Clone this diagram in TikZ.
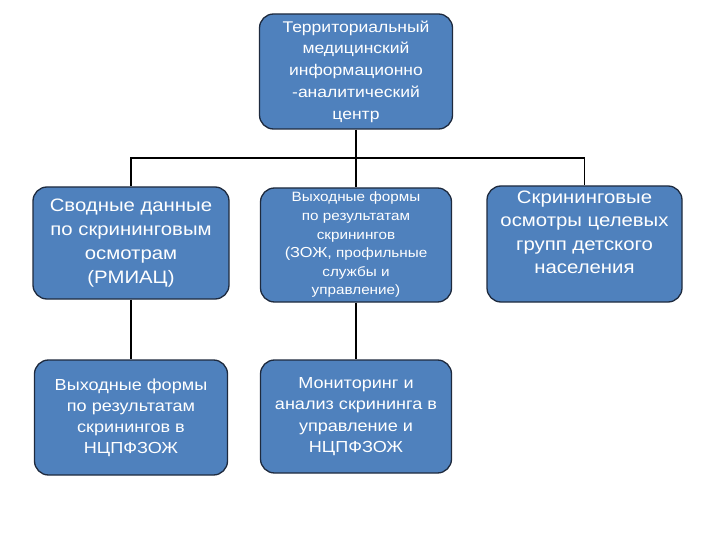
\documentclass[tikz,border=0pt]{standalone}
\usepackage{fontspec}
\setmainfont[FakeStretch=1.13]{Liberation Sans}
\definecolor{boxblue}{HTML}{4F81BD}
\definecolor{boxedge}{HTML}{1E2A3E}
\begin{document}
\begin{tikzpicture}[x=1pt,y=-1pt,
  box/.style={draw=boxedge, line width=1.3pt, fill=boxblue, rounded corners=14pt,
    text=white, align=center, inner sep=0pt},
  conn/.style={line width=1.8pt, draw=black}]
\useasboundingbox (0,0) rectangle (720,540);
\node[box, minimum width=193pt, minimum height=115pt, font=\fontsize{15.5}{21.7}\selectfont] (top) at (356,71.5)
  {Территориальный\\медицинский\\информационно\\-аналитический\\центр};
\node[box, minimum width=196pt, minimum height=112pt, font=\fontsize{18}{24}\selectfont] (b1) at (131,243)
  {Сводные данные\\по скрининговым\\осмотрам\\(РМИАЦ)};
\node[box, minimum width=191pt, minimum height=114pt, font=\fontsize{13.5}{18.6}\selectfont] (b2) at (356,245)
  {Выходные формы\\по результатам\\скринингов\\{\fontsize{14.5}{18.6}\selectfont(ЗОЖ,} профильные\\службы и\\управление)};
\node[box, minimum width=195pt, minimum height=116pt, font=\fontsize{18}{23.5}\selectfont] (b3) at (584.5,244)
  {Скрининговые\\осмотры целевых\\групп детского\\населения\\\mbox{}};
\node[box, minimum width=193pt, minimum height=115pt, font=\fontsize{16}{21}\selectfont] (c1) at (131,417.5)
  {Выходные формы\\по результатам\\скринингов в\\НЦПФЗОЖ};
\node[box, minimum width=191pt, minimum height=113pt, font=\fontsize{16}{21.5}\selectfont] (c2) at (356,416.5)
  {Мониторинг и\\анализ скрининга в\\управление и\\НЦПФЗОЖ};
\coordinate (bus) at (356,158);
\draw[conn] (top.south) -- (bus);
\draw[conn] (b1.north) |- (bus) -| (b3.north);
\draw[conn] (bus) -- (b2.north);
\draw[conn] (b1.south) -- (c1.north);
\draw[conn] (b2.south) -- (c2.north);
\end{tikzpicture}
\end{document}
